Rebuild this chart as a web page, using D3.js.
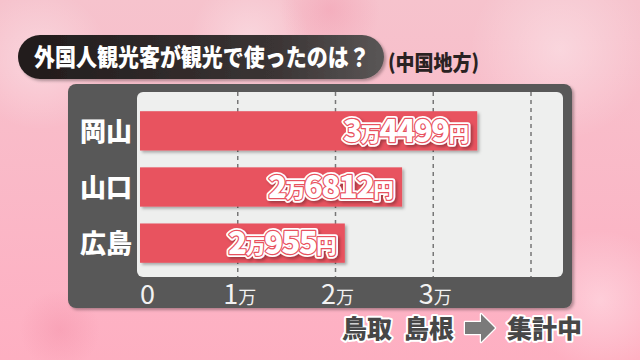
<!DOCTYPE html>
<html>
<head>
<meta charset="utf-8">
<script src="https://cdn.jsdelivr.net/npm/d3@7"></script>
<style>
  html, body { margin: 0; padding: 0; background: #f6bcc8; }
  svg { display: block; }
  text { font-family: "Noto Sans CJK JP", "Noto Sans", sans-serif; }
</style>
</head>
<body>
<svg id="chart" width="640" height="360"></svg>
<script>
// Data
const regions = ['岡山', '山口', '広島'];
const spending = [34499, 26812, 20955];
const tickValues = [0, 10000, 20000, 30000, 40000];
const tickLabels = ['0', '1万', '2万', '3万', ''];

const TITLE = '外国人観光客が観光で使ったのは？';
const SUBTITLE = '(中国地方)';
const NOTE_LEFT = ['鳥取', '島根'];
const NOTE_RIGHT = '集計中';

const W = 640, H = 360;
const svg = d3.select('#chart');
const defs = svg.append('defs');

// Background gradient + soft bokeh blobs
const bg = defs.append('linearGradient').attr('id', 'bg')
    .attr('x1', 0).attr('y1', 0).attr('x2', 0).attr('y2', 1);
bg.append('stop').attr('offset', '0%').attr('stop-color', '#f6c3cd');
bg.append('stop').attr('offset', '100%').attr('stop-color', '#feafc2');

const blob = defs.append('radialGradient').attr('id', 'blob');
blob.append('stop').attr('offset', '0%').attr('stop-color', '#ffffff').attr('stop-opacity', 0.35);
blob.append('stop').attr('offset', '100%').attr('stop-color', '#ffffff').attr('stop-opacity', 0);
const blobDark = defs.append('radialGradient').attr('id', 'blobDark');
blobDark.append('stop').attr('offset', '0%').attr('stop-color', '#f08aa2').attr('stop-opacity', 0.35);
blobDark.append('stop').attr('offset', '100%').attr('stop-color', '#f08aa2').attr('stop-opacity', 0);

const shadow = defs.append('filter').attr('id', 'shadow')
    .attr('x', '-10%').attr('y', '-10%').attr('width', '130%').attr('height', '140%');
shadow.append('feDropShadow').attr('dx', 2).attr('dy', 2).attr('stdDeviation', 1.5)
    .attr('flood-color', '#000').attr('flood-opacity', 0.3);

const titleGrad = defs.append('linearGradient').attr('id', 'titleGrad');
titleGrad.append('stop').attr('offset', '0%').attr('stop-color', '#211b1b');
titleGrad.append('stop').attr('offset', '70%').attr('stop-color', '#3a3434');
titleGrad.append('stop').attr('offset', '100%').attr('stop-color', '#5a5656');

svg.append('rect').attr('width', W).attr('height', H).attr('fill', 'url(#bg)');
const blobs = [[40, 60, 70, 'blob'], [250, 40, 60, 'blob'], [560, 50, 90, 'blob'],
    [60, 330, 40, 'blobDark'], [600, 300, 70, 'blob'], [330, 10, 50, 'blobDark']];
svg.append('g').selectAll('circle').data(blobs).join('circle')
    .attr('cx', d => d[0]).attr('cy', d => d[1]).attr('r', d => d[2])
    .attr('fill', d => 'url(#' + d[3] + ')');

// Title pill
svg.append('rect')
    .attr('x', 18).attr('y', 35).attr('width', 366).attr('height', 44)
    .attr('rx', 22).attr('fill', 'url(#titleGrad)').attr('filter', 'url(#shadow)');
svg.append('g').attr('transform', 'translate(34,66) scale(1,1.15)')
    .append('text')
    .attr('fill', '#fff').attr('font-size', 21).attr('font-weight', 900)
    .text(TITLE);
svg.append('g').attr('transform', 'translate(388,70) scale(1,1.1)')
    .append('text')
    .attr('fill', '#2a2222').attr('font-size', 19).attr('font-weight', 900)
    .text(SUBTITLE);

// Chart panel
svg.append('rect')
    .attr('x', 68).attr('y', 84).attr('width', 504).attr('height', 224)
    .attr('rx', 8).attr('fill', '#585858').attr('filter', 'url(#shadow)');

const plot = { left: 137, top: 92, right: 563, bottom: 277 };
svg.append('rect')
    .attr('x', plot.left).attr('y', plot.top)
    .attr('width', plot.right - plot.left).attr('height', plot.bottom - plot.top)
    .attr('rx', 6).attr('fill', '#eeefee');

const x = d3.scaleLinear().domain([0, 40000]).range([140, 531]);
const y = d3.scaleBand().domain(regions).range([100, 274]).paddingInner(0.3).paddingOuter(0.2);

// Grid lines
svg.append('g').selectAll('line').data(tickValues.slice(1)).join('line')
    .attr('x1', d => x(d)).attr('x2', d => x(d))
    .attr('y1', plot.top).attr('y2', plot.bottom)
    .attr('stroke', '#777').attr('stroke-width', 1.5).attr('stroke-dasharray', '4,4');

// Bars
svg.append('g').selectAll('rect').data(spending).join('rect')
    .attr('x', x(0)).attr('y', (d, i) => y(regions[i]))
    .attr('width', d => x(d) - x(0)).attr('height', y.bandwidth())
    .attr('fill', '#e8525f').attr('filter', 'url(#shadow)');

// Value labels: "3万4499円"
function fillParts(sel) {
    sel.each(function (d) {
        const t = d3.select(this);
        const parts = [[String(Math.floor(d / 10000)), 31], ['万', 20], [String(d % 10000), 31], ['円', 20]];
        parts.forEach(p => t.append('tspan').attr('font-size', p[1]).text(p[0]));
    });
}
function valueText(g, stroke, width) {
    return g.selectAll('text').data(spending).join('text')
        .attr('x', d => x(d) - 10)
        .attr('y', (d, i) => y(regions[i]) + y.bandwidth() / 2 + 11)
        .attr('text-anchor', 'end')
        .attr('font-weight', 900).attr('letter-spacing', -1.5)
        .attr('fill', '#fff').attr('stroke', stroke).attr('stroke-width', width)
        .attr('stroke-linejoin', 'round').attr('paint-order', 'stroke')
        .call(fillParts);
}
valueText(svg.append('g').attr('filter', 'url(#shadow)'), '#fff', 6);
valueText(svg.append('g'), '#e8525f', 2.4);

// Category labels
svg.append('g').selectAll('text').data(regions).join('text')
    .attr('x', 132).attr('y', d => y(d) + y.bandwidth() / 2 + 10)
    .attr('text-anchor', 'end')
    .attr('fill', '#fff').attr('font-size', 26).attr('font-weight', 900)
    .text(d => d);

// X tick labels
const ticks = svg.append('g').selectAll('text').data(tickValues).join('text')
    .attr('x', d => d === 0 ? x(d) : x(d) + 2)
    .attr('y', 304)
    .attr('text-anchor', d => d === 0 ? 'start' : 'middle')
    .attr('fill', '#f2f2f2').attr('font-family', '"Noto Sans", sans-serif');
ticks.each(function (d, i) {
    const lbl = tickLabels[i];
    const t = d3.select(this);
    if (!lbl) return;
    t.append('tspan').attr('font-size', 27).text(lbl.replace('万', ''));
    if (lbl.includes('万')) t.append('tspan').attr('font-size', 18)
        .attr('font-family', '"Noto Sans CJK JP", sans-serif').text('万');
});

// Footer note
const note = svg.append('g')
    .attr('font-size', 25).attr('font-weight', 900)
    .attr('fill', '#474747').attr('stroke', '#fff').attr('stroke-width', 4)
    .attr('stroke-linejoin', 'round').attr('paint-order', 'stroke');
note.append('text').attr('x', 342).attr('y', 338).text(NOTE_LEFT[0]);
note.append('text').attr('x', 404).attr('y', 338).text(NOTE_LEFT[1]);
note.append('text').attr('x', 507).attr('y', 338).text(NOTE_RIGHT);
note.append('path')
    .attr('d', 'M465,322 h16 v-8 l14,14 l-14,14 v-8 h-16 z')
    .attr('fill', '#7a7a7a').attr('stroke-width', 2.5);
</script>
</body>
</html>
